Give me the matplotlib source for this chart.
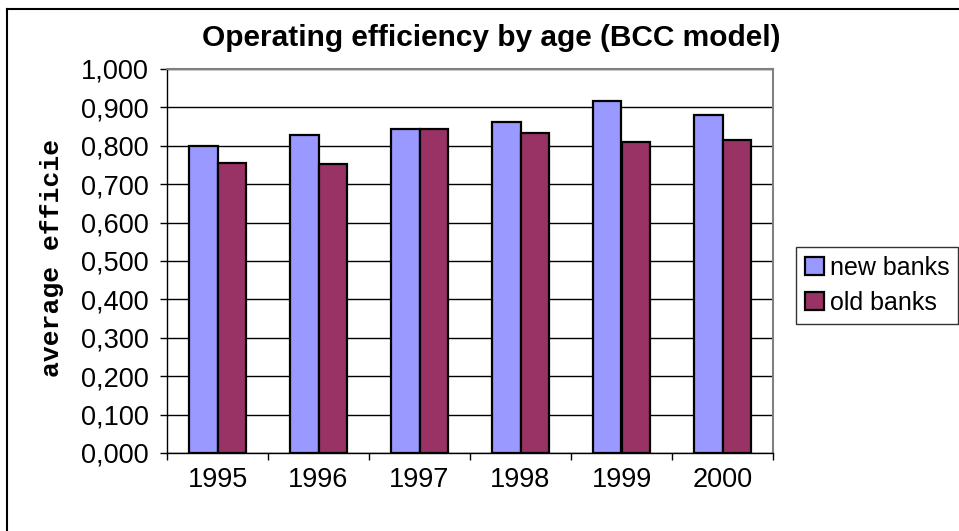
import numpy as np
import matplotlib
matplotlib.use("Agg")
import matplotlib.pyplot as plt
from matplotlib.ticker import FuncFormatter, FixedLocator
from matplotlib.lines import Line2D

years = ["1995", "1996", "1997", "1998", "1999", "2000"]
new_banks = [0.800, 0.828, 0.844, 0.861, 0.916, 0.881]
old_banks = [0.756, 0.753, 0.843, 0.833, 0.809, 0.815]

plt.rcParams['font.family'] = ['Liberation Sans', 'DejaVu Sans']

fig = plt.figure(figsize=(9.59, 5.31), dpi=100)
ax = fig.add_axes([167/959, 1-453/531, 606/959, 384/531])

x = np.arange(len(years)) + 0.5
w = 0.285
ax.bar(x - w/2, new_banks, w, color='#9999FF', edgecolor='black', linewidth=1.6,
       label='new banks', zorder=3)
ax.bar(x + w/2, old_banks, w, color='#993366', edgecolor='black', linewidth=1.6,
       label='old banks', zorder=3)

ax.set_xlim(0, len(years))
ax.set_ylim(0, 1.0)
ax.set_yticks(np.arange(0, 1.01, 0.1))
ax.yaxis.set_major_formatter(FuncFormatter(lambda v, p: f"{v:.3f}".replace('.', ',')))
ax.yaxis.grid(True, color='black', linewidth=1, zorder=0)

ax.set_xticks(x)
ax.set_xticklabels(years)
ax.xaxis.set_minor_locator(FixedLocator(np.arange(0, len(years)+1)))
ax.tick_params(axis='x', which='major', length=0, pad=10, labelsize=19.5)
ax.tick_params(axis='x', which='minor', length=5, direction='out', width=1)
ax.tick_params(axis='y', length=5, direction='out', width=1, labelsize=19.5, pad=8)

for s in ['top', 'right']:
    ax.spines[s].set_color('#808080')
    ax.spines[s].set_linewidth(1.5)
for s in ['left', 'bottom']:
    ax.spines[s].set_color('black')
    ax.spines[s].set_linewidth(1)

fig.text(52/959, 1-258/531, 'average efficie', rotation=90, ha='center', va='center',
         fontsize=19, fontweight='bold', family=['Liberation Mono', 'DejaVu Sans Mono'])
fig.text(491/959, 1-38/531, 'Operating efficiency by age (BCC model)', ha='center',
         va='center', fontsize=21.5, fontweight='bold')

leg = fig.legend(loc='upper left', bbox_to_anchor=(796/959, 1-247/531), fontsize=18,
                 frameon=True, fancybox=False, handlelength=0.75, handleheight=0.75,
                 handletextpad=0.25, borderpad=0.35, labelspacing=0.45, borderaxespad=0)
leg.get_frame().set_edgecolor('black')
leg.get_frame().set_linewidth(1)

# outer chart frame
fig.add_artist(Line2D([7/959, 7/959], [0, 1-9/531], color='black', linewidth=1.5,
                      transform=fig.transFigure))
fig.add_artist(Line2D([7/959, 1], [1-9/531, 1-9/531], color='black', linewidth=1.5,
                      transform=fig.transFigure))

fig.savefig('out.png', dpi=100)
